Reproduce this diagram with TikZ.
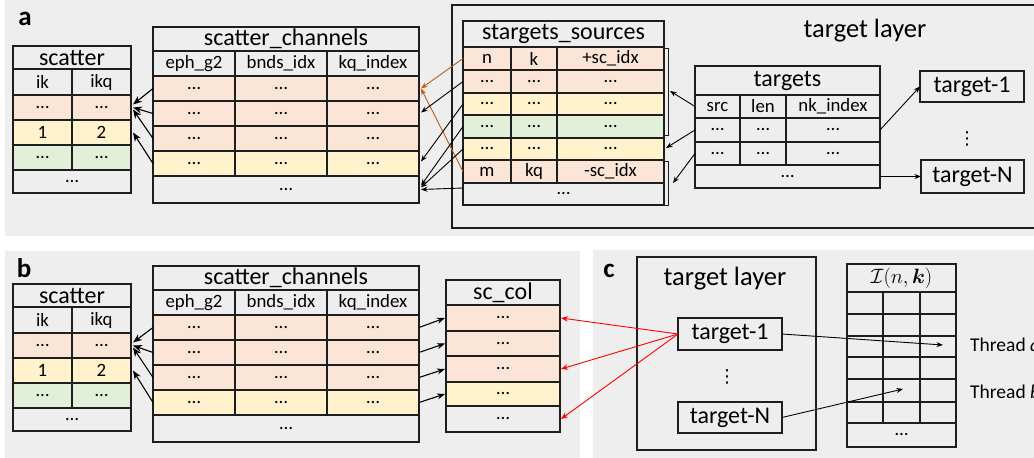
\documentclass[tikz,border=0pt]{standalone}
\usepackage{amsmath}
\usepackage{fontspec}
\setmainfont{Carlito}
\newfontfamily\dotsfont{DejaVu Sans}
\usetikzlibrary{arrows.meta,calc}

\definecolor{panelbg}{HTML}{EEEEEE}
\definecolor{pinkc}{HTML}{FBE5D6}
\definecolor{yellc}{HTML}{FFF2CC}
\definecolor{greenc}{HTML}{E2F0D9}
\definecolor{orangec}{HTML}{C55A11}
\definecolor{linec}{HTML}{1E1E1E}

\newcommand{\titlefont}{\fontsize{24}{26}\selectfont}
\newcommand{\cellfont}{\fontsize{18.8}{20}\selectfont}
\newcommand{\layerfont}{\fontsize{26.5}{30}\selectfont}
\newcommand{\panellabelfont}{\fontsize{27}{30}\selectfont\bfseries}
\newcommand{\threadfont}{\fontsize{19.5}{22}\selectfont}

\tikzset{
  cell/.style={draw=linec, line width=1.3pt, inner sep=0pt, outer sep=0pt, font=\cellfont},
  box/.style={draw=linec, line width=1.3pt, inner sep=0pt, outer sep=0pt, fill=panelbg, font=\titlefont},
  vdotsnode/.style={font=\dotsfont\fontsize{18}{20}\selectfont, inner sep=0pt},
  arr/.style={-{Stealth[length=6.5pt,width=5pt]}, line width=0.9pt, draw=black},
  bigarr/.style={-{Stealth[length=9pt,width=7pt]}, line width=1.1pt, draw=black},
  midarr/.style={-{Stealth[length=8pt,width=6pt]}, line width=1.1pt, draw=black},
  orangearr/.style={arr, draw=orangec},
  redarr/.style={-{Stealth[length=7pt,width=5.5pt]}, line width=0.9pt, draw=red},
  bracketline/.style={draw=linec, line width=1pt}
}

% one cell: name, x1, y1, x2, y2, fill, text
\newcommand{\cellbox}[7]{%
  \node[cell, fill=#6, minimum width={#4-#2}, minimum height={#5-#3}]
    (#1) at ({(#2+#4)/2},{(#3+#5)/2}) {#7};}

% the scatter table
\newcommand{\scattertab}[1]{%
  \cellbox{#1-title}{13}{46}{131}{69}{panelbg}{\titlefont scatter}
  \cellbox{#1-h1}{13}{69}{72}{95}{panelbg}{ik}
  \cellbox{#1-h2}{72}{69}{131}{95}{panelbg}{ikq}
  \cellbox{#1-r1a}{13}{95}{72}{120}{pinkc}{…}
  \cellbox{#1-r1}{72}{95}{131}{120}{pinkc}{…}
  \cellbox{#1-r2a}{13}{120}{72}{145}{yellc}{1}
  \cellbox{#1-r2}{72}{120}{131}{145}{yellc}{2}
  \cellbox{#1-r3a}{13}{145}{72}{170}{greenc}{…}
  \cellbox{#1-r3}{72}{145}{131}{170}{greenc}{…}
  \cellbox{#1-last}{13}{170}{131}{193}{panelbg}{…}}

% the scatter_channels table
\newcommand{\chantab}[1]{%
  \cellbox{#1-title}{153}{27}{419}{51}{panelbg}{\titlefont scatter\_channels}
  \cellbox{#1-h1}{153}{51}{235}{76}{panelbg}{eph\_g2}
  \cellbox{#1-h2}{235}{51}{327}{76}{panelbg}{bnds\_idx}
  \cellbox{#1-h3}{327}{51}{419}{76}{panelbg}{kq\_index}
  \cellbox{#1-r1a}{153}{76}{235}{101}{pinkc}{…}
  \cellbox{#1-r1b}{235}{76}{327}{101}{pinkc}{…}
  \cellbox{#1-r1}{327}{76}{419}{101}{pinkc}{…}
  \cellbox{#1-r2a}{153}{101}{235}{126}{pinkc}{…}
  \cellbox{#1-r2b}{235}{101}{327}{126}{pinkc}{…}
  \cellbox{#1-r2}{327}{101}{419}{126}{pinkc}{…}
  \cellbox{#1-r3a}{153}{126}{235}{151}{pinkc}{…}
  \cellbox{#1-r3b}{235}{126}{327}{151}{pinkc}{…}
  \cellbox{#1-r3}{327}{126}{419}{151}{pinkc}{…}
  \cellbox{#1-r4a}{153}{151}{235}{176}{yellc}{…}
  \cellbox{#1-r4b}{235}{151}{327}{176}{yellc}{…}
  \cellbox{#1-r4}{327}{151}{419}{176}{yellc}{…}
  \cellbox{#1-last}{153}{176}{419}{203}{panelbg}{…}}

\begin{document}
\begin{tikzpicture}[x=1pt,y=-1pt]
\useasboundingbox (0,0) rectangle (1034,458);

% panel backgrounds
\fill[white] (0,0) rectangle (1034,458);
\fill[panelbg] (5,-5) rectangle (1045,236);
\fill[panelbg] (5,251) rectangle (580,465);
\fill[panelbg] (593,250) rectangle (1045,465);

% panel labels
\node[font=\panellabelfont] (la) at (25,19) {a};
\node[font=\panellabelfont] (lb) at (24,268) {b};
\node[font=\panellabelfont] (lc) at (609,271) {c};

%% ---------------- panel a ----------------
\draw[linec, line width=1.3pt] (452,5) rectangle (1045,228);
\node[font=\layerfont] (tla) at (865,31) {target layer};

\scattertab{sa}
\chantab{ca}

% stargets_sources
\cellbox{st-title}{463}{21}{664}{47}{panelbg}{\titlefont stargets\_sources}
\cellbox{st-r1a}{463}{47}{511}{70}{pinkc}{n}
\cellbox{st-r1b}{511}{47}{557}{70}{pinkc}{k}
\cellbox{st-r1}{557}{47}{664}{70}{pinkc}{+sc\_idx}
\cellbox{st-r2a}{463}{70}{511}{93}{pinkc}{…}
\cellbox{st-r2b}{511}{70}{557}{93}{pinkc}{…}
\cellbox{st-r2}{557}{70}{664}{93}{pinkc}{…}
\cellbox{st-r3a}{463}{93}{511}{115}{yellc}{…}
\cellbox{st-r3b}{511}{93}{557}{115}{yellc}{…}
\cellbox{st-r3}{557}{93}{664}{115}{yellc}{…}
\cellbox{st-r4a}{463}{115}{511}{138}{greenc}{…}
\cellbox{st-r4b}{511}{115}{557}{138}{greenc}{…}
\cellbox{st-r4}{557}{115}{664}{138}{greenc}{…}
\cellbox{st-r5a}{463}{138}{511}{160}{yellc}{…}
\cellbox{st-r5b}{511}{138}{557}{160}{yellc}{…}
\cellbox{st-r5}{557}{138}{664}{160}{yellc}{…}
\cellbox{st-r6a}{463}{160}{511}{183}{pinkc}{m}
\cellbox{st-r6b}{511}{160}{557}{183}{pinkc}{kq}
\cellbox{st-r6}{557}{160}{664}{183}{pinkc}{-sc\_idx}
\cellbox{st-last}{463}{183}{664}{205}{panelbg}{…}

% brackets grouping source rows
\draw[bracketline] (664,48) -- (668,48) -- (668,135) -- (664,135);
\draw[bracketline] (664,161) -- (668,161) -- (668,205) -- (664,205);
\coordinate (br1) at (670,91);
\coordinate (br2) at (673,183);

% targets
\cellbox{tg-title}{695}{66}{880}{95}{panelbg}{\titlefont targets}
\cellbox{tg-h1}{695}{95}{740}{118}{panelbg}{src}
\cellbox{tg-h2}{740}{95}{786}{118}{panelbg}{len}
\cellbox{tg-h3}{786}{95}{880}{118}{panelbg}{nk\_index}
\cellbox{tg-r1a}{695}{118}{740}{142}{panelbg}{…}
\cellbox{tg-r1b}{740}{118}{786}{142}{panelbg}{…}
\cellbox{tg-r1}{786}{118}{880}{142}{panelbg}{…}
\cellbox{tg-r2a}{695}{142}{740}{165}{panelbg}{…}
\cellbox{tg-r2b}{740}{142}{786}{165}{panelbg}{…}
\cellbox{tg-r2}{786}{142}{880}{165}{panelbg}{…}
\cellbox{tg-last}{695}{165}{880}{188}{panelbg}{…}

\node[box, minimum width=104, minimum height=31] (t1a) at (972,86.5) {target-1};
\node[box, minimum width=103, minimum height=33] (tNa) at (972.5,176.5) {target-N};
\node[vdotsnode] (vda) at (967,139) {⋮};

% connectors, panel a
\draw[bigarr] (ca-r1a.west) -- ($(sa-r1.east)+(2,-3)$);
\draw[bigarr] (ca-r2a.west) -- ($(sa-r1.east)+(2,0)$);
\draw[bigarr] (ca-r3a.west) -- ($(sa-r1.east)+(2,2)$);
\draw[bigarr] (ca-r4a.west) -- ($(sa-r2.east)+(2,0)$);

\draw[orangearr] (st-r1a.west) -- ($(ca-r1.east)+(2,0)$);
\draw[orangearr] (st-r6a.west) -- ($(ca-r1.east)+(2,0)$);
\draw[arr] (st-r2a.west) -- ($(ca-r2.east)+(2,-1)$);
\draw[arr] (st-r3a.west) -- ($(ca-r4.east)+(2,-2)$);
\draw[arr] (st-r4a.west) -- ($(ca-last.east)+(2,-4)$);
\draw[arr] (st-r5a.west) -- ($(ca-last.east)+(2,-2)$);
\draw[arr] ($(st-last.west)+(0,-6)$) -- ($(ca-last.east)+(2,0)$);

\draw[arr] (tg-h1.west) -- (br1);
\draw[arr] (tg-r1a.west) -- ($(st-r5.east)+(2,-1)$);
\draw[arr] (tg-r2a.west) -- (br2);
\draw[arr] (tg-r1.east) -- (t1a.west);
\draw[arr] (tg-last.east) -- (tNa.west);

%% ---------------- panel b ----------------
\begin{scope}[shift={(0,238)}]
\scattertab{sb}
\end{scope}
\begin{scope}[shift={(0,239)}]
\chantab{cb}
\end{scope}

% sc_col
\cellbox{sc-title}{446}{280}{560}{305}{panelbg}{\titlefont sc\_col}
\cellbox{sc-r1}{446}{305}{560}{331}{pinkc}{…}
\cellbox{sc-r2}{446}{331}{560}{356}{pinkc}{…}
\cellbox{sc-r3}{446}{356}{560}{382}{pinkc}{…}
\cellbox{sc-r4}{446}{382}{560}{406}{yellc}{…}
\cellbox{sc-last}{446}{406}{560}{432}{panelbg}{…}

\draw[bigarr] (cb-r1a.west) -- ($(sb-r1.east)+(2,-3)$);
\draw[bigarr] (cb-r2a.west) -- ($(sb-r1.east)+(2,0)$);
\draw[bigarr] (cb-r3a.west) -- ($(sb-r1.east)+(2,2)$);
\draw[bigarr] (cb-r4a.west) -- ($(sb-r2.east)+(2,0)$);

\draw[midarr] (cb-r1.east) -- ($(sc-r1.west)+(-1,0)$);
\draw[midarr] (cb-r2.east) -- ($(sc-r2.west)+(-1,0)$);
\draw[midarr] (cb-r3.east) -- ($(sc-r3.west)+(-1,0)$);
\draw[midarr] (cb-r4.east) -- ($(sc-r4.west)+(-1,0)$);

%% ---------------- panel c ----------------
\draw[linec, line width=1.3pt] (637,257) rectangle (816,450);
\node[font=\layerfont] (tlc) at (725,279) {target layer};
\node[box, minimum width=104, minimum height=32] (t1c) at (730,334) {target-1};
\node[box, minimum width=104, minimum height=31] (tNc) at (730,417.5) {target-N};
\node[vdotsnode] (vdc) at (727,377) {⋮};

% the I(n,k) array
\cellbox{gI-title}{847}{264}{956}{292}{panelbg}{\fontsize{20}{24}\selectfont$\mathcal{I}(n,\boldsymbol{k})$}
\foreach \ya/\yb [count=\i] in {292/314,314/336,336/357,357/379,379/402,402/423}{
  \foreach \xa/\xb [count=\j] in {847/883,883/920,920/956}{
    \cellbox{gI-\i-\j}{\xa}{\ya}{\xb}{\yb}{panelbg}{}
  }
}
\cellbox{gI-last}{847}{423}{956}{447}{panelbg}{…}

\coordinate (thA) at (943,345);
\coordinate (thB) at (903,389);
\node[font=\threadfont, anchor=west, inner sep=0pt] (thrA) at (970,345) {Thread \textit{a}};
\node[font=\threadfont, anchor=west, inner sep=0pt] (thrB) at (970,392) {Thread \textit{b}};

\draw[arr] (t1c.east) -- (thA);
\draw[arr] (tNc.east) -- (thB);

\draw[redarr] (t1c.west) -- ($(sc-r1.east)+(1,0)$);
\draw[redarr] (t1c.west) -- ($(sc-r3.east)+(1,0)$);
\draw[redarr] (t1c.west) -- ($(sc-last.east)+(1,0)$);

\end{tikzpicture}
\end{document}
